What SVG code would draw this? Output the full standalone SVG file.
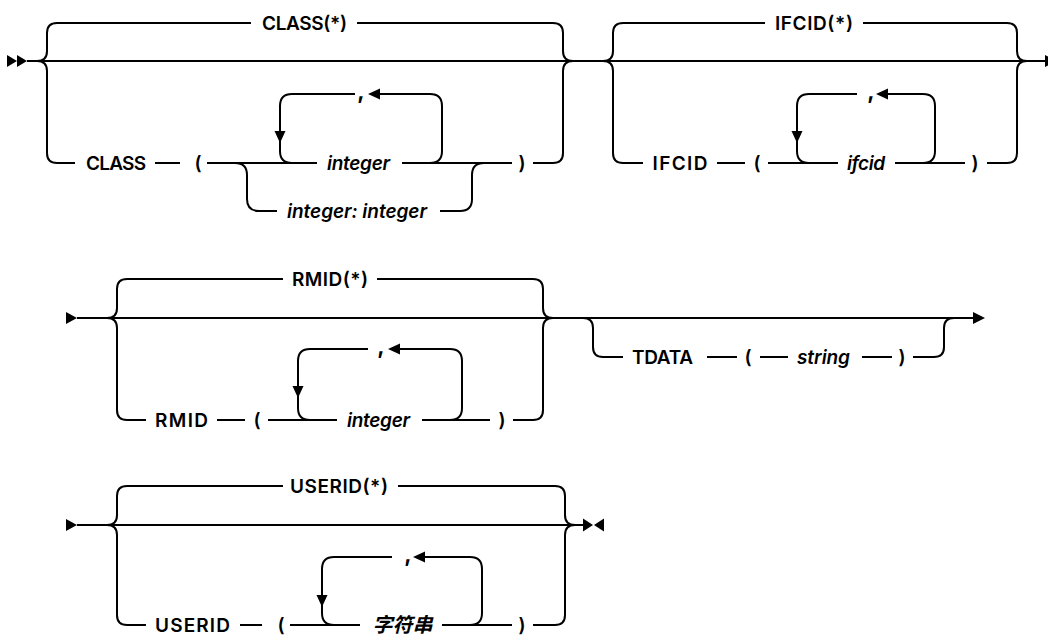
<svg xmlns="http://www.w3.org/2000/svg" width="1048" height="636" viewBox="0 0 1048 636">
<style>
.ln{fill:none;stroke:#000;stroke-width:2;stroke-linecap:butt}
.ah{fill:#000;stroke:none}
.t{font-family:Inter,"Liberation Sans",sans-serif;font-size:19px;font-weight:600;fill:#000;text-anchor:middle}
.i{font-style:italic}
.c{font-size:22px;font-weight:700}
.cjk{font-family:"Noto Sans CJK SC",sans-serif;font-style:italic;font-size:20px;font-weight:700}
</style>
<rect width="1048" height="636" fill="#fff"/>
<g id="connectors">
<path class="ln" d="M27,61 H1045"/>
<path class="ln" d="M37,61 Q47,61 47,51 V33 Q47,23 57,23 H251 M37,61 Q47,61 47,71 V153 Q47,163 57,163 H75"/>
<path class="ln" d="M357,23 H553 Q563,23 563,33 V51 Q563,61 573,61 M533,163 H553 Q563,163 563,153 V71 Q563,61 573,61"/>
<path class="ln" d="M155,163 H180 M207,163 H317 M402,163 H512"/>
<path class="ln" d="M430,163 Q442,163 442,151 V106 Q442,94 430,94 H380 M355,94 H292 Q280,94 280,106 V151 Q280,163 292,163"/>
<path class="ln" d="M235,163 Q247,163 247,175 V199 Q247,211 259,211 H277 M440,211 H460 Q472,211 472,199 V175 Q472,163 484,163"/>
<path class="ln" d="M603,61 Q613,61 613,51 V33 Q613,23 623,23 H765 M603,61 Q613,61 613,71 V153 Q613,163 623,163 H643"/>
<path class="ln" d="M863,23 H1007 Q1017,23 1017,33 V51 Q1017,61 1027,61 M987,163 H1007 Q1017,163 1017,153 V71 Q1017,61 1027,61"/>
<path class="ln" d="M717,163 H745 M768,163 H838 M895,163 H965"/>
<path class="ln" d="M857,94 H809 Q797,94 797,106 V151 Q797,163 809,163 M923,163 Q935,163 935,151 V106 Q935,94 923,94 H888"/>
<polygon class="ah" points="7,55 17,61 7,67"/>
<polygon class="ah" points="17,55 27,61 17,67"/>
<polygon class="ah" points="368,94 380,88.5 380,99.5"/>
<polygon class="ah" points="280,143 274.5,131 285.5,131"/>
<polygon class="ah" points="876,94 888,88.5 888,99.5"/>
<polygon class="ah" points="797,143 791.5,131 802.5,131"/>
<polygon class="ah" points="1045,55 1057,61 1045,67"/>
<path class="ln" d="M77,318 H973"/>
<path class="ln" d="M107,318 Q117,318 117,308 V289 Q117,279 127,279 H283 M107,318 Q117,318 117,328 V410 Q117,420 127,420 H146"/>
<path class="ln" d="M377,279 H533 Q543,279 543,289 V308 Q543,318 553,318 M513,420 H533 Q543,420 543,410 V328 Q543,318 553,318"/>
<path class="ln" d="M217,420 H245 M268,420 H337 M422,420 H490"/>
<path class="ln" d="M368,349 H310 Q298,349 298,361 V408 Q298,420 310,420 M450,420 Q462,420 462,408 V361 Q462,349 450,349 H400"/>
<path class="ln" d="M583,318 Q593,318 593,328 V347 Q593,357 603,357 H623 M707,357 H737 M760,357 H788 M862,357 H892 M913,357 H934 Q944,357 944,347 V328 Q944,318 954,318"/>
<polygon class="ah" points="66,312 77,318 66,324"/>
<polygon class="ah" points="388,349 400,343.5 400,354.5"/>
<polygon class="ah" points="298,398 292.5,386 303.5,386"/>
<polygon class="ah" points="973,312 985,318 973,324"/>
<path class="ln" d="M77,525 H583"/>
<path class="ln" d="M107,525 Q117,525 117,515 V496 Q117,486 127,486 H283 M107,525 Q117,525 117,535 V615 Q117,625 127,625 H146"/>
<path class="ln" d="M398,486 H555 Q565,486 565,496 V515 Q565,525 575,525 M533,625 H555 Q565,625 565,615 V535 Q565,525 575,525"/>
<path class="ln" d="M240,625 H262 M290,625 H360 M442,625 H512"/>
<path class="ln" d="M392,557 H334 Q322,557 322,569 V613 Q322,625 334,625 M470,625 Q482,625 482,613 V569 Q482,557 470,557 H424"/>
<polygon class="ah" points="66,519 77,525 66,531"/>
<polygon class="ah" points="413,557 425,551.5 425,562.5"/>
<polygon class="ah" points="322,607 316.5,595 327.5,595"/>
<polygon class="ah" points="583,518.5 593,525 583,531.5"/>
<polygon class="ah" points="604,518.5 594,525 604,531.5"/>
</g>
<g id="n-class-star"><text class="t" x="304.5" y="30" textLength="85">CLASS(*)</text></g>
<g id="n-class"><text class="t" x="116" y="170" textLength="60">CLASS</text></g>
<g id="n-class-lp"><text class="t" x="198" y="170">(</text></g>
<g id="n-class-comma"><text class="t c" x="361" y="99">,</text></g>
<g id="n-class-integer"><text class="t i" x="358.5" y="170" textLength="63">integer</text></g>
<g id="n-class-range"><text class="t i" x="357" y="218" textLength="140">integer: integer</text></g>
<g id="n-class-rp"><text class="t" x="522" y="170">)</text></g>
<g id="n-ifcid-star"><text class="t" x="814" y="30" textLength="78">IFCID(*)</text></g>
<g id="n-ifcid"><text class="t" x="680" y="170" textLength="55">IFCID</text></g>
<g id="n-ifcid-lp"><text class="t" x="757" y="170">(</text></g>
<g id="n-ifcid-comma"><text class="t c" x="871" y="99">,</text></g>
<g id="n-ifcid-val"><text class="t i" x="866" y="170" textLength="38">ifcid</text></g>
<g id="n-ifcid-rp"><text class="t" x="975" y="170">)</text></g>
<g id="n-rmid-star"><text class="t" x="330" y="286" textLength="76">RMID(*)</text></g>
<g id="n-rmid"><text class="t" x="181.5" y="427" textLength="53">RMID</text></g>
<g id="n-rmid-lp"><text class="t" x="257" y="427">(</text></g>
<g id="n-rmid-comma"><text class="t c" x="381" y="354">,</text></g>
<g id="n-rmid-integer"><text class="t i" x="378.5" y="427" textLength="63">integer</text></g>
<g id="n-rmid-rp"><text class="t" x="502" y="427">)</text></g>
<g id="n-tdata"><text class="t" x="662.5" y="364" textLength="61">TDATA</text></g>
<g id="n-tdata-lp"><text class="t" x="748" y="364">(</text></g>
<g id="n-tdata-string"><text class="t i" x="823.5" y="364" textLength="53">string</text></g>
<g id="n-tdata-rp"><text class="t" x="902" y="364">)</text></g>
<g id="n-userid-star"><text class="t" x="339" y="493" textLength="98">USERID(*)</text></g>
<g id="n-userid"><text class="t" x="192.5" y="632" textLength="75">USERID</text></g>
<g id="n-userid-lp"><text class="t" x="281" y="632">(</text></g>
<g id="n-userid-comma"><text class="t c" x="408" y="562">,</text></g>
<g id="n-userid-val"><text class="t cjk" x="402.5" y="632">字符串</text></g>
<g id="n-userid-rp"><text class="t" x="522" y="632">)</text></g>
</svg>
